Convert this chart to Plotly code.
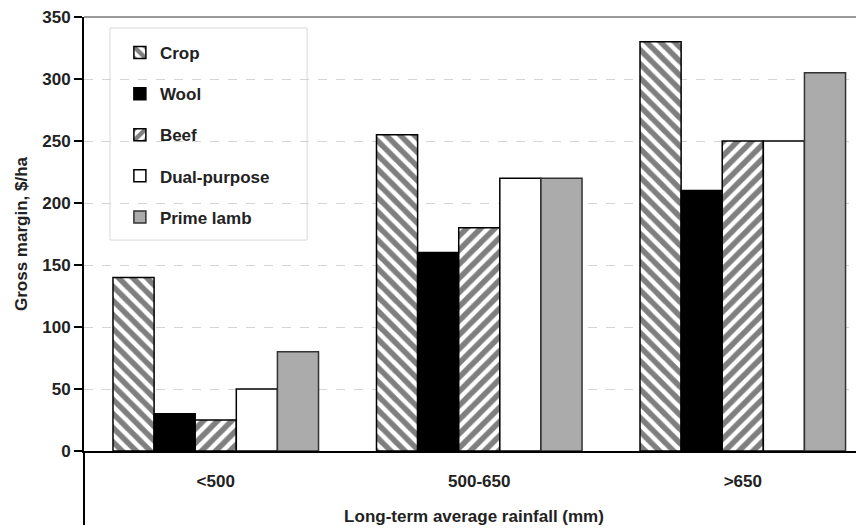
import plotly.graph_objects as go

categories = ["<500", "500-650", ">650"]
crop = [140, 255, 330]
wool = [30, 160, 210]
beef = [25, 180, 250]
dual_purpose = [50, 220, 250]
prime_lamb = [80, 220, 305]
y_ticks = [0, 50, 100, 150, 200, 250, 300, 350]

FONT = "Liberation Sans, Arial, sans-serif"
FS = 17
TXT = "#222222"

series = [
    ("Crop", crop, dict(color="white", line=dict(color="black", width=1.5),
                         pattern=dict(shape="\\", fgcolor="black", bgcolor="white", size=10, solidity=0.55))),
    ("Wool", wool, dict(color="black", line=dict(color="black", width=1.5))),
    ("Beef", beef, dict(color="white", line=dict(color="black", width=1.5),
                         pattern=dict(shape="/", fgcolor="black", bgcolor="white", size=10, solidity=0.55))),
    ("Dual-purpose", dual_purpose, dict(color="white", line=dict(color="black", width=1.5))),
    ("Prime lamb", prime_lamb, dict(color="#ababab", line=dict(color="#333333", width=1.5))),
]

fig = go.Figure()
for i, (name, vals, marker) in enumerate(series):
    fig.add_trace(go.Bar(x=categories, y=vals, name=name, marker=marker,
                         legendgroup=f"g{i}"))

def f(size=FS):
    return dict(family=FONT, size=size, color=TXT, weight="bold")

fig.update_layout(
    width=864, height=530,
    margin=dict(l=76, r=8, t=9, b=87, autoexpand=False),
    paper_bgcolor="white", plot_bgcolor="white",
    barmode="group", bargap=0.22, bargroupgap=0,
    font=f(),
    showlegend=True,
    legend=dict(x=0.046, y=0.9585, xanchor="left", yanchor="top",
                bgcolor="rgba(0,0,0,0)", borderwidth=0,
                tracegroupgap=16, traceorder="grouped",
                font=f()),
    xaxis=dict(range=[-0.5, 2.46], showline=True, linecolor="black", linewidth=2,
               ticks="", showgrid=False, ticklabelstandoff=14, automargin=False,
               tickfont=f(),
               title=dict(text="Long-term average rainfall (mm)", standoff=20, font=f())),
    yaxis=dict(range=[0, 350], tickvals=y_ticks, showline=True, linecolor="black", linewidth=2,
               ticks="outside", ticklen=8, tickwidth=2, tickcolor="black",
               showgrid=True, gridcolor="#d4d4d4", griddash="dash", gridwidth=1,
               zeroline=False, ticklabeloverflow="allow", automargin=False,
               tickfont=f(),
               title=dict(text="Gross margin, $/ha", standoff=10, font=f())),
    shapes=[
        # top frame line
        dict(type="line", xref="paper", yref="paper", x0=0, x1=1, y0=1, y1=1,
             line=dict(color="#9a9a9a", width=2)),
        # y-axis line extension below zero
        dict(type="line", xref="paper", yref="paper", x0=0, x1=0, y0=-0.1705, y1=0,
             line=dict(color="black", width=2)),
        # legend box
        dict(type="rect", xref="paper", yref="paper", x0=0.0333, x1=0.286, y0=0.486, y1=0.9747,
             line=dict(color="#d8d8d8", width=1), fillcolor="rgba(0,0,0,0)", layer="below"),
    ],
)

fig.write_html("out.html")
